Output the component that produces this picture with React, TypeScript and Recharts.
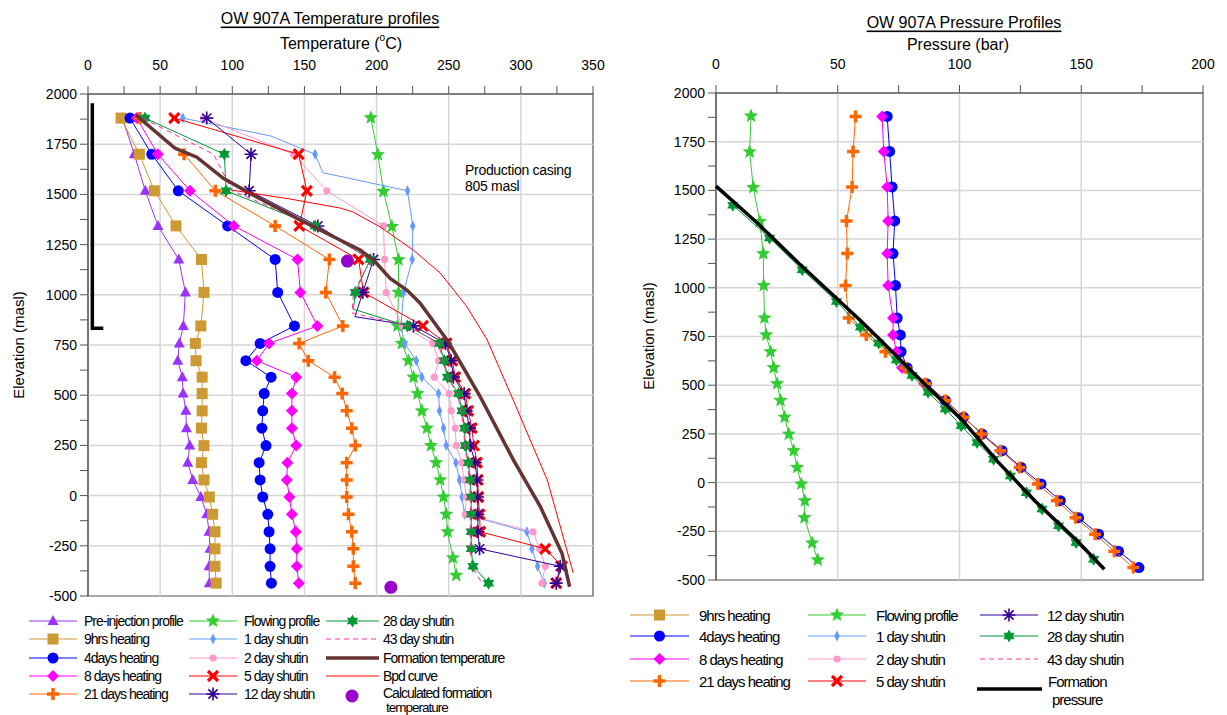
import React from "react";
import { ScatterChart, Scatter, XAxis, YAxis, ReferenceLine, ReferenceArea } from "recharts";

const FONT = '"Liberation Sans", Arial, sans-serif';

// survey station elevations (masl)
const elev = [1880, 1700, 1518, 1343, 1176, 1012, 845, 758, 672, 590, 508, 422, 336, 249, 164, 78, -7, -93, -180, -265, -352, -436];
const flowElev = [1882, 1698, 1515, 1340, 1175, 1012, 845, 758, 672, 590, 508, 422, 336, 249, 164, 78, -7, -93, -180, -310, -397];

// temperatures (deg C)
const preInjection = [23.8, 32.1, 39.7, 48.5, 62.9, 67.5, 66.1, 63.3, 62.2, 65.4, 65.9, 67.8, 68.2, 70.5, 69.1, 72.6, 78.2, 82.3, 83.9, 84.6, 83.9, 84.1];
const heat9h = [22.9, 35.6, 46.0, 61.0, 78.6, 80.4, 78.2, 74.4, 74.9, 79.1, 79.1, 79.1, 78.6, 80.4, 78.6, 80.4, 84.1, 86.4, 88.0, 88.0, 88.0, 88.8];
const heat4d = [29.1, 44.2, 62.6, 96.8, 129.7, 131.5, 143.1, 119.3, 109.4, 126.9, 122.1, 121.1, 120.5, 123.4, 118.6, 119.3, 121.1, 124.6, 125.5, 126.2, 126.2, 127.1];
const heat8d = [33.8, 48.4, 70.7, 101.1, 145.2, 147.2, 159.0, 125.5, 117.0, 144.3, 141.3, 141.3, 141.3, 144.3, 138.2, 137.8, 139.6, 141.3, 144.0, 144.7, 144.7, 146.1];
const heat21d = [36.0, 66.6, 88.3, 129.7, 167.3, 164.8, 176.6, 146.3, 152.7, 170.9, 176.2, 179.3, 182.8, 185.3, 179.3, 179.3, 179.3, 180.5, 182.8, 183.9, 183.9, 185.2];
const flowingT = [196.0, 200.9, 204.8, 210.6, 215.2, 215.2, 214.5, 217.5, 222.1, 225.6, 228.4, 231.4, 234.9, 237.7, 241.3, 244.1, 246.4, 248.3, 249.2, 252.9, 255.2];
const shut1d = [65.7, 157.4, 221.4, 225.1, 224.7, 218.7, 217.0, 219.4, 227.5, 231.4, 243.0, 243.6, 246.4, 248.3, 255.0, 257.5, 259.2, 261.0, 304.2, 307.7, 311.6, 316.2];
const shut2d = [80.0, 142.4, 165.5, 204.8, 205.5, 206.7, 218.0, 239.0, 243.0, 240.0, 250.3, 251.7, 254.5, 255.2, 259.1, 260.7, 262.1, 261.4, 308.4, 313.0, 316.9, 314.6];
const shut5d = [59.8, 146.0, 151.7, 146.5, 187.5, 191.0, 232.1, 248.5, 252.5, 254.5, 261.5, 263.5, 266.0, 267.5, 269.6, 270.2, 270.5, 271.4, 271.8, 316.9, 328.5, 324.5];
const shut12d = [82.3, 113.0, 111.7, 159.3, 197.9, 190.5, 225.6, 247.6, 251.7, 253.3, 260.7, 262.1, 264.4, 264.9, 268.4, 269.6, 270.0, 270.2, 270.2, 271.4, 327.3, 324.5];
const shut28d = [39.5, 94.5, 95.7, 157.4, 195.6, 185.2, 221.4, 243.6, 246.9, 249.2, 256.8, 259.2, 261.0, 261.4, 263.7, 264.9, 265.6, 265.6, 265.6, 265.6, 266.8, 277.6];
const shut43d = [38.0, 87.0, 100.0, 157.0, 196.0, 184.0, 222.0, 243.0, 246.0, 249.0, 256.0, 258.5, 260.5, 261.0, 263.0, 264.0, 265.0, 265.0, 265.0, 265.0, 266.0, 273.0];

// unmarked bends in some shut-in lines: [temperature, elevation]
const bends1d = [[126.6, 1791], [162.8, 1608]];
const bends12d = [[185.0, 891]];
const bends28d = [[184.0, 928]];
const bends43d = [[183.0, 910]];

const formT = [33.3, 60.3, 75.4, 93.8, 112.3, 147.0, 170.1, 188.6, 197.9, 209.4, 221.0, 230.2, 248.8, 251.0, 271.8, 294.9, 313.5, 328.5, 333.8];
const formZ = [1895, 1730, 1685, 1580, 1505, 1373, 1289, 1223, 1173, 1082, 1024, 958, 775, 750, 493, 177, -55, -287, -454];
const bpdT = [99.0, 140.1, 174.8, 183.8, 202.5, 225.4, 244.1, 262.8, 276.7, 294.7, 318.3, 336.3];
const bpdZ = [1522, 1477, 1432, 1412, 1338, 1223, 1109, 939, 775, 476, 78, -385];
const calcT = [179.8, 209.9];
const calcZ = [1168, -457];
const casingT = [3.0, 3.0, 10.6];
const casingZ = [1954, 833, 833];

// pressures (bar)
const p21d = [57.3, 56.3, 55.9, 53.6, 53.9, 53.2, 54.5, 61.7, 69.6, 77.8, 86.0, 94.2, 101.7, 109.0, 116.8, 124.7, 132.2, 140.0, 147.7, 155.7, 163.6, 171.4];
const p4d = [70.3, 71.3, 72.3, 73.4, 72.7, 73.7, 74.4, 75.7, 76.0, 78.5, 86.4, 94.2, 101.7, 109.3, 117.5, 125.3, 133.5, 141.4, 148.9, 157.1, 165.3, 173.7];
const p8d = [68.2, 68.9, 70.3, 70.7, 70.3, 70.7, 72.7, 72.7, 74.1, 76.4, 85.5];
const pFlowing = [14.4, 13.8, 15.3, 18.0, 19.4, 19.6, 19.9, 20.6, 22.4, 23.7, 25.1, 26.5, 28.2, 29.9, 31.9, 33.3, 35.0, 36.5, 36.3, 39.5, 41.8];
const z28p = [1424, 1256, 1093, 930, 798, 716, 630, 550, 464, 378, 292, 206, 120, 34, -52, -136, -222, -308, -394];
const p28d = [6.9, 22.0, 35.4, 49.5, 59.3, 66.8, 74.1, 80.5, 87.1, 94.2, 100.7, 107.2, 114.0, 120.9, 127.5, 133.9, 140.7, 147.9, 155.1];
const fpZ = [1522, 1338, 1120, 832, 738, 490, 323, 110, -94, -299, -445];
const fpP = [0, 16.5, 34.5, 59.3, 67.0, 87.0, 101.0, 115.5, 131.0, 148.3, 159.5];

const tTicks = [0, 25, 50, 75, 100, 125, 150, 175, 200, 225, 250, 275, 300, 325, 350];
const pTicks = [0, 25, 50, 75, 100, 125, 150, 175, 200];
const zTicks = [-500, -375, -250, -125, 0, 125, 250, 375, 500, 625, 750, 875, 1000, 1125, 1250, 1375, 1500, 1625, 1750, 1875, 2000];
const tGrid = [50, 100, 150, 200, 250, 300];
const pGrid = [50, 100, 150];
const zGrid = [-250, 0, 250, 500, 750, 1000, 1250, 1500, 1750];

const pts = (xs: number[], zs: number[], key: string) => xs.map((v, i) => ({ [key]: v, z: zs[i] }));
// add unmarked bend vertices, keeping the profile ordered by elevation
const withBends = (list: any[], bends: number[][]) =>
  [...list, ...bends.map(([t, z]) => ({ t, z, hidden: true }))].sort((a, b) => b.z - a.z);

type Style = { color: string; kind: string; line?: string; width?: number; dash?: string; noLine?: boolean };
const styles: Record<string, Style> = {
  "Pre-injection profile": { color: "#9933ff", kind: "triangle" },
  "9hrs heating": { color: "#cc9933", kind: "square" },
  "4days heating": { color: "#0000ff", kind: "circle" },
  "8 days heating": { color: "#ff00ff", kind: "diamond" },
  "21 days heating": { color: "#ff6600", kind: "plus" },
  "Flowing profile": { color: "#33cc33", kind: "star5" },
  "1 day shutin": { color: "#6699ff", kind: "thinDiamond" },
  "2 day shutin": { color: "#ff99cc", kind: "dot" },
  "5 day shutin": { color: "#ff0000", kind: "cross" },
  "12 day shutin": { color: "#330099", kind: "asterisk" },
  "28 day shutin": { color: "#009933", kind: "star6" },
  "43 day shutin": { color: "#ff3399", kind: "none", dash: "5 4" },
  "Formation temperature": { color: "#663333", kind: "none", width: 3.5 },
  "Bpd curve": { color: "#ff0000", kind: "none" },
  "Calculated formation temperature": { color: "#9900cc", kind: "bigDot", noLine: true },
  "Formation pressure": { color: "#000000", kind: "none", width: 3.5 },
  casing: { color: "#000000", kind: "none", width: 3.5 },
};

const tempSeries: [string, any[]][] = [
  ["Pre-injection profile", pts(preInjection, elev, "t")],
  ["9hrs heating", pts(heat9h, elev, "t")],
  ["4days heating", pts(heat4d, elev, "t")],
  ["8 days heating", pts(heat8d, elev, "t")],
  ["21 days heating", pts(heat21d, elev, "t")],
  ["Flowing profile", pts(flowingT, flowElev, "t")],
  ["1 day shutin", withBends(pts(shut1d, elev, "t"), bends1d)],
  ["2 day shutin", pts(shut2d, elev, "t")],
  ["5 day shutin", pts(shut5d, elev, "t")],
  ["12 day shutin", withBends(pts(shut12d, elev, "t"), bends12d)],
  ["28 day shutin", withBends(pts(shut28d, elev, "t"), bends28d)],
  ["43 day shutin", withBends(pts(shut43d, elev, "t"), bends43d)],
  ["Formation temperature", pts(formT, formZ, "t")],
  ["Bpd curve", pts(bpdT, bpdZ, "t")],
  ["Calculated formation temperature", pts(calcT, calcZ, "t")],
  ["casing", pts(casingT, casingZ, "t")],
];

const presSeries: [string, any[]][] = [
  ["4days heating", pts(p4d, elev, "p")],
  ["8 days heating", pts(p8d, elev, "p")],
  ["21 days heating", pts(p21d, elev, "p")],
  ["Flowing profile", pts(pFlowing, flowElev, "p")],
  ["28 day shutin", pts(p28d, z28p, "p")],
  ["Formation pressure", pts(fpP, fpZ, "p")],
];

function starPts(x: number, y: number, n: number, ro: number, ri: number) {
  const out: string[] = [];
  for (let k = 0; k < n * 2; k++) {
    const r = k % 2 ? ri : ro;
    const a = ((-90 + (k * 180) / n) * Math.PI) / 180;
    out.push(`${(x + r * Math.cos(a)).toFixed(2)},${(y + r * Math.sin(a)).toFixed(2)}`);
  }
  return out.join(" ");
}

function Marker({ kind, color, x, y }: { kind: string; color: string; x: number; y: number }) {
  if (x == null || y == null) return <g />;
  switch (kind) {
    case "triangle":
      return <polygon points={`${x},${y - 6} ${x + 5.5},${y + 4} ${x - 5.5},${y + 4}`} fill={color} />;
    case "square":
      return <rect x={x - 5.5} y={y - 5.5} width={11} height={11} fill={color} />;
    case "circle":
      return <circle cx={x} cy={y} r={5.5} fill={color} />;
    case "diamond":
      return <polygon points={`${x},${y - 6} ${x + 6},${y} ${x},${y + 6} ${x - 6},${y}`} fill={color} />;
    case "plus":
      return <path d={`M${x - 6},${y}H${x + 6}M${x},${y - 6}V${y + 6}`} stroke={color} strokeWidth={3.5} />;
    case "cross":
      return <path d={`M${x - 5},${y - 5}L${x + 5},${y + 5}M${x + 5},${y - 5}L${x - 5},${y + 5}`} stroke={color} strokeWidth={3.2} />;
    case "asterisk":
      return (
        <path
          d={`M${x - 6.5},${y}H${x + 6.5}M${x},${y - 6.5}V${y + 6.5}M${x - 4.6},${y - 4.6}L${x + 4.6},${y + 4.6}M${x + 4.6},${y - 4.6}L${x - 4.6},${y + 4.6}`}
          stroke={color}
          strokeWidth={1.6}
        />
      );
    case "star5":
      return <polygon points={starPts(x, y, 5, 7.5, 3.3)} fill={color} />;
    case "star6":
      return <polygon points={starPts(x, y, 6, 6.5, 3.8)} fill={color} />;
    case "thinDiamond":
      return <polygon points={`${x},${y - 5.5} ${x + 2.8},${y} ${x},${y + 5.5} ${x - 2.8},${y}`} fill={color} />;
    case "dot":
      return <circle cx={x} cy={y} r={3.6} fill={color} />;
    case "bigDot":
      return <circle cx={x} cy={y} r={6.5} fill={color} />;
    default:
      return <g />;
  }
}

function renderSeries(list: [string, any[]][]) {
  return list.map(([name, data]) => {
    const s = styles[name];
    return (
      <Scatter
        key={name}
        name={name}
        data={data}
        fill={s.color}
        line={s.noLine ? false : { stroke: s.line ?? s.color, strokeWidth: s.width ?? 1, strokeDasharray: s.dash }}
        lineJointType="linear"
        shape={(p: any) =>
          p.payload && p.payload.hidden ? <g /> : <Marker kind={s.kind} color={s.color} x={p.cx} y={p.cy} />
        }
        isAnimationActive={false}
      />
    );
  });
}

const major = (step: number) => (v: number) => (v % step === 0 ? String(v) : "");
const tickStyle = { fill: "#000", fontSize: 14, fontFamily: FONT };

function TempChart() {
  return (
    <ScatterChart width={610} height={612} margin={{ top: 54, right: 17, bottom: 16, left: 28 }}>
      <XAxis type="number" dataKey="t" orientation="top" domain={[0, 350]} ticks={tTicks} interval={0}
        tickFormatter={major(50)} height={40} tickSize={8} tickMargin={16} stroke="#555" tick={tickStyle} />
      <YAxis type="number" dataKey="z" domain={[-500, 2000]} ticks={zTicks} interval={0}
        tickFormatter={major(250)} width={60} tickSize={8} tickMargin={3} stroke="#555" tick={tickStyle} />
      {tGrid.map((v) => <ReferenceLine key={"x" + v} x={v} stroke="#d6d6d6" strokeWidth={1.5} />)}
      {zGrid.map((v) => <ReferenceLine key={"y" + v} y={v} stroke="#d6d6d6" strokeWidth={1.5} />)}
      <ReferenceArea x1={0} x2={350} y1={-500} y2={2000} fill="none" stroke="#555" strokeWidth={1.2} />
      {renderSeries(tempSeries)}
    </ScatterChart>
  );
}

function PresChart() {
  return (
    <ScatterChart width={590} height={596} margin={{ top: 53, right: 17, bottom: 16, left: 26 }}>
      <XAxis type="number" dataKey="p" orientation="top" domain={[0, 200]} ticks={pTicks} interval={0}
        tickFormatter={major(50)} height={40} tickSize={8} tickMargin={16} stroke="#555" tick={tickStyle} />
      <YAxis type="number" dataKey="z" domain={[-500, 2000]} ticks={zTicks} interval={0}
        tickFormatter={major(250)} width={60} tickSize={8} tickMargin={3} stroke="#555" tick={tickStyle} />
      {pGrid.map((v) => <ReferenceLine key={"x" + v} x={v} stroke="#d6d6d6" strokeWidth={1.5} />)}
      {zGrid.map((v) => <ReferenceLine key={"y" + v} y={v} stroke="#d6d6d6" strokeWidth={1.5} />)}
      <ReferenceArea x1={0} x2={200} y1={-500} y2={2000} fill="none" stroke="#555" strokeWidth={1.2} />
      {renderSeries(presSeries)}
    </ScatterChart>
  );
}

function LegendRow({ name, x1, x2, tx, y, fs }: { name: string; x1: number; x2: number; tx: number; y: number; fs: number }) {
  const s = styles[name];
  return (
    <g>
      {!s.noLine && <line x1={x1} x2={x2} y1={y} y2={y} stroke={s.line ?? s.color} strokeWidth={s.width ?? 1} strokeDasharray={s.dash} />}
      <Marker kind={s.kind} color={s.color} x={(x1 + x2) / 2} y={y} />
      <text x={tx} y={y} fontSize={fs} letterSpacing={-1} dominantBaseline="central">{name}</text>
    </g>
  );
}

const leftLegend = [
  ["Pre-injection profile", "9hrs heating", "4days heating", "8 days heating", "21 days heating"],
  ["Flowing profile", "1 day shutin", "2 day shutin", "5 day shutin", "12 day shutin"],
  ["28 day shutin", "43 day shutin", "Formation temperature", "Bpd curve"],
];
const rightLegend = [
  ["9hrs heating", "4days heating", "8 days heating", "21 days heating"],
  ["Flowing profile", "1 day shutin", "2 day shutin", "5 day shutin"],
  ["12 day shutin", "28 day shutin", "43 day shutin"],
];

function Overlay() {
  const lRows = [621, 639, 658, 676, 694];
  const lCols = [[29, 77, 84], [189, 237, 244], [326, 379, 383]];
  const rRows = [615, 636, 659, 681];
  const rCols = [[630, 689, 699], [808, 866, 876], [980, 1038, 1047]];
  return (
    <svg width={1227} height={715} style={{ position: "absolute", left: 0, top: 0, pointerEvents: "none" }} fontFamily={FONT}>
      <text x={330} y={18} fontSize={16} textAnchor="middle" dominantBaseline="central" style={{ textDecoration: "underline" }}>OW 907A Temperature profiles</text>
      <text x={341} y={43} fontSize={16} textAnchor="middle" dominantBaseline="central">
        Temperature (<tspan fontSize={10} dy={-6}>o</tspan><tspan dy={6}>C)</tspan>
      </text>
      <text x={964} y={22} fontSize={16} textAnchor="middle" dominantBaseline="central" style={{ textDecoration: "underline" }}>OW 907A Pressure Profiles</text>
      <text x={958} y={44} fontSize={16} textAnchor="middle" dominantBaseline="central">Pressure (bar)</text>
      <text transform="translate(18,345) rotate(-90)" fontSize={15} textAnchor="middle" dominantBaseline="central">Elevation (masl)</text>
      <text transform="translate(648,336) rotate(-90)" fontSize={15} textAnchor="middle" dominantBaseline="central">Elevation (masl)</text>
      <text x={465} y={170} fontSize={14} letterSpacing={-0.3} dominantBaseline="central">Production casing</text>
      <text x={465} y={186} fontSize={14} letterSpacing={-0.3} dominantBaseline="central">805 masl</text>

      {leftLegend.map((col, ci) =>
        col.map((name, ri) => (
          <LegendRow key={"l" + name} name={name} x1={lCols[ci][0]} x2={lCols[ci][1]} tx={lCols[ci][2]} y={lRows[ri]} fs={14} />
        ))
      )}
      <Marker kind="bigDot" color={styles["Calculated formation temperature"].color} x={352} y={696} />
      <text x={383} y={693} fontSize={14} letterSpacing={-1} dominantBaseline="central">Calculated formation</text>
      <text x={386} y={707} fontSize={13.5} letterSpacing={-1} dominantBaseline="central">temperature</text>

      {rightLegend.map((col, ci) =>
        col.map((name, ri) => (
          <LegendRow key={"r" + name} name={name} x1={rCols[ci][0]} x2={rCols[ci][1]} tx={rCols[ci][2]} y={rRows[ri]} fs={15} />
        ))
      )}
      <line x1={977} x2={1042} y1={689} y2={689} stroke="#000" strokeWidth={3.5} />
      <text x={1048} y={681} fontSize={15} letterSpacing={-1} dominantBaseline="central">Formation</text>
      <text x={1052} y={699} fontSize={15} letterSpacing={-1} dominantBaseline="central">pressure</text>
    </svg>
  );
}

export default function App() {
  return (
    <div style={{ position: "absolute", left: 0, top: 0, width: 1227, height: 715, background: "#fff", fontFamily: FONT }}>
      <div style={{ position: "absolute", left: 0, top: 0 }}>
        <TempChart />
      </div>
      <div style={{ position: "absolute", left: 630, top: 0 }}>
        <PresChart />
      </div>
      <Overlay />
    </div>
  );
}
